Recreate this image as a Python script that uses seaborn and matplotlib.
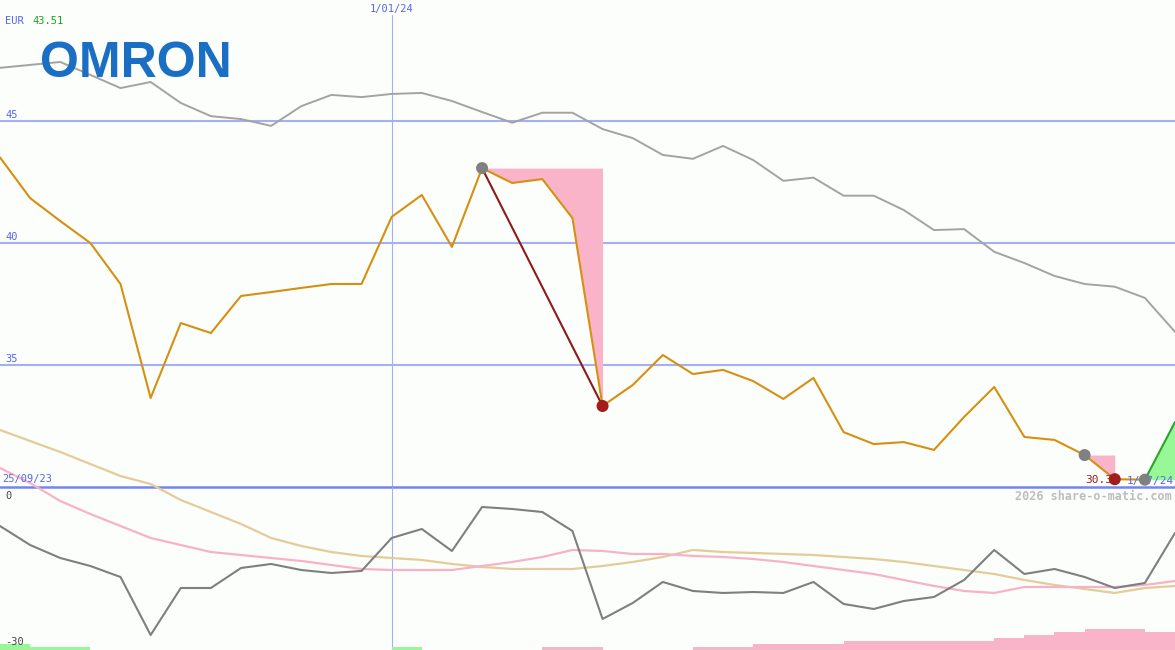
import numpy as np
import pandas as pd
import matplotlib
matplotlib.use('Agg')
import matplotlib.pyplot as plt
import seaborn as sns

# weekly closes, 40 weeks from late Sep 2023
weeks = np.arange(40)
price = [43.51, 41.84, 40.90, 40.00, 38.32, 33.65, 36.72, 36.31, 37.83, 37.99,
         38.16, 38.32, 38.32, 41.07, 41.97, 39.84, 43.07, 42.46, 42.62, 41.02,
         33.32, 34.18, 35.41, 34.63, 34.80, 34.34, 33.61, 34.47, 32.25, 31.76,
         31.84, 31.52, 32.87, 34.10, 32.05, 31.93, 31.31, 30.32, 30.30, 32.66]
# grey comparison line in the price panel
index_line = [47.18, 47.30, 47.42, 46.89, 46.35, 46.60, 45.74, 45.20, 45.08, 44.80,
              45.61, 46.07, 45.98, 46.11, 46.15, 45.82, 45.37, 44.93, 45.34, 45.34,
              44.67, 44.30, 43.61, 43.45, 43.98, 43.40, 42.55, 42.68, 41.94, 41.94,
              41.35, 40.53, 40.57, 39.64, 39.18, 38.65, 38.32, 38.21, 37.75, 36.36]
# lower panel oscillator and its two averages
osc = [-7.30, -11.05, -13.61, -15.19, -17.36, -28.80, -19.53, -19.53, -15.58, -14.79,
       -15.98, -16.57, -16.17, -9.66, -7.89, -12.23, -3.55, -3.94, -4.54, -8.28,
       -25.64, -22.49, -18.34, -20.12, -20.51, -20.32, -20.51, -18.34, -22.68, -23.67,
       -22.09, -21.30, -17.95, -12.03, -16.77, -15.78, -17.36, -19.53, -18.54, -8.68]
osc_fast = [4.14, 1.18, -2.37, -4.93, -7.30, -9.66, -11.05, -12.43, -13.02, -13.61,
            -14.20, -14.99, -15.78, -15.98, -15.98, -15.98, -15.19, -14.40, -13.41, -12.03,
            -12.23, -12.82, -12.82, -13.21, -13.41, -13.81, -14.40, -15.19, -15.98, -16.77,
            -17.95, -19.13, -20.12, -20.51, -19.33, -19.33, -19.33, -19.33, -18.93, -18.15]
osc_slow = [11.64, 9.47, 7.30, 4.93, 2.56, 0.99, -2.17, -4.54, -6.90, -9.66,
            -11.24, -12.43, -13.21, -13.61, -14.00, -14.79, -15.38, -15.78, -15.78, -15.78,
            -15.19, -14.40, -13.41, -12.03, -12.43, -12.62, -12.82, -13.02, -13.41, -13.81,
            -14.40, -15.19, -15.98, -16.77, -17.95, -18.93, -19.72, -20.51, -19.53, -19.13]
# bottom signal strip, one bar per week (positive green, negative pink)
signal = [2, 1, 1, 0, 0, 0, 0, 0, 0, 0, 0, 0, 0, 1, 0, 0, 0, 0, -1, -1,
          0, 0, 0, -1, -1, -2, -2, -2, -3, -3, -3, -3, -3, -4, -5, -6, -7, -7, -6]
peaks = [16, 36, 38]
troughs = [20, 37]
price_ticks = [45, 40, 35]

df = pd.DataFrame({'week': weeks, 'price': price, 'index': index_line,
                   'osc': osc, 'fast': osc_fast, 'slow': osc_slow})

sns.set_style('white')
plt.rcParams['font.family'] = ['DejaVu Sans Mono', 'DejaVu Sans']

BG = '#fcfefc'
BLUE_GRID = '#a3b0f3'
W, H = 1175, 650
fig = plt.figure(figsize=(11.75, 6.5), dpi=100, facecolor=BG)

# price panel
ax = fig.add_axes([0, 163 / H, 1, 487 / H])
ax.set_xlim(0, 39)
ax.set_ylim(30, 49.96)
ax.axis('off')
for v in price_ticks:
    ax.axhline(v, color=BLUE_GRID, lw=1.5, zorder=1)
    ax.annotate(str(v), xy=(0, v), xytext=(5, 3), textcoords='offset pixels',
                color='#5566ee', fontsize=7.5, va='baseline')
ax.axhline(30, color='#7485ee', lw=1.8, zorder=2, clip_on=False)
ax.axvline(13, ymin=0, ymax=1 - 15 / 487, color=BLUE_GRID, lw=0.8, zorder=1)

sns.lineplot(data=df, x='week', y='index', ax=ax, color='#a3a3a3', lw=1.4, zorder=2)

# drawdown shading
ax.fill_between(weeks[16:21], price[16], price[16:21], color='#f9b4ca', lw=0, zorder=2)
ax.fill_between(weeks[36:38], price[36], price[36:38], color='#f9b4ca', lw=0, zorder=2)
ax.fill_between(weeks[38:40], price[38], price[38:40], color='#98f898', lw=0, zorder=2)

sns.lineplot(data=df.iloc[:39], x='week', y='price', ax=ax, color='#d69010', lw=1.5, zorder=3)
sns.lineplot(data=df.iloc[38:], x='week', y='price', ax=ax, color='#28a428', lw=1.5, zorder=3)
sns.lineplot(data=df.iloc[[16, 20]], x='week', y='price', ax=ax, color='#8e1a1a', lw=1.5, zorder=3)

ax.annotate('30.32', xy=(37, price[37]), xytext=(4, -1), textcoords='offset pixels',
            color='#a01c1c', fontsize=8, ha='right', va='center', zorder=4)
ax.annotate('1/07/24', xy=(39, price[38]), xytext=(-1, -1), textcoords='offset pixels',
            color='#5566ee', fontsize=8, ha='right', va='center', zorder=4)

sns.scatterplot(data=df.iloc[peaks], x='week', y='price', ax=ax, color='#808080',
                s=75, edgecolor='none', zorder=5)
sns.scatterplot(data=df.iloc[troughs], x='week', y='price', ax=ax, color='#a31c1c',
                s=75, edgecolor='none', zorder=5)

# oscillator panel (its averages run up into the price panel)
ax2 = fig.add_axes([0, 0, 1, 230 / H])
ax2.set_xlim(0, 39)
ax2.set_ylim(-31.76, 13.61)
ax2.axis('off')
ax2.axvline(13, ymin=0, ymax=163 / 230, color=BLUE_GRID, lw=0.8, zorder=1)
sns.lineplot(data=df, x='week', y='slow', ax=ax2, color='#e4cc9a', lw=1.6, zorder=2)
sns.lineplot(data=df, x='week', y='fast', ax=ax2, color='#f8b2c8', lw=1.6, zorder=2)
sns.lineplot(data=df, x='week', y='osc', ax=ax2, color='#7f7f7f', lw=1.5, zorder=3)

# signal strip
ax3 = fig.add_axes([0, 0, 1, 30 / H])
ax3.set_xlim(0, 39)
ax3.set_ylim(0, 10)
ax3.axis('off')
ax3.bar(weeks[:39], np.abs(signal), width=1, align='edge', lw=0,
        color=['#98f898' if s > 0 else '#f9b4ca' for s in signal])

# labels
def px_text(x, y, s, **kw):
    fig.text(x / W, 1 - y / H, s, **kw)

px_text(5, 21, 'EUR', color='#5566ee', fontsize=7.5, va='center')
px_text(32, 21, '43.51', color='#20a020', fontsize=7.5, va='center')
px_text(392, 9, '1/01/24', color='#5566ee', fontsize=7.5, ha='center', va='center')
px_text(2, 479, '25/09/23', color='#5566ee', fontsize=7.5, va='center')
px_text(5, 496, '0', color='#444444', fontsize=7.5, va='center')
px_text(5, 642, '-30', color='#444444', fontsize=7.5, va='center')
px_text(1172, 496, '2026 share-o-matic.com', color='#bdbdbd', fontsize=8.5,
        fontweight='bold', ha='right', va='center')
fig.text(40 / W, 1 - 77 / H, 'OMRON', color='#1a6fc4', fontsize=36,
         fontweight='heavy', family='Liberation Sans', va='baseline')

fig.savefig('out.png', dpi=100, facecolor=BG)
